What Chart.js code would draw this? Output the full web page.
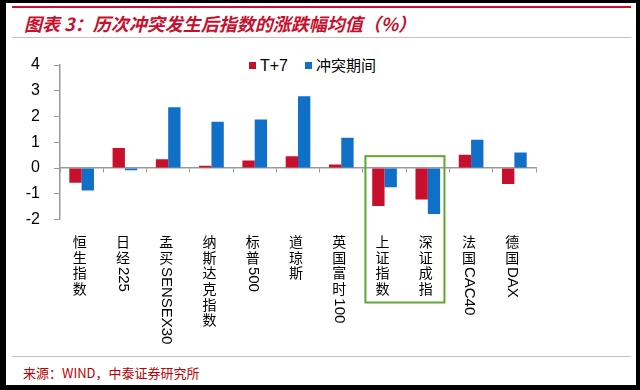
<!DOCTYPE html>
<html><head><meta charset="utf-8">
<script src="https://cdn.jsdelivr.net/npm/chart.js@4.4.1/dist/chart.umd.min.js"></script>
<style>
html,body{margin:0;padding:0;background:#000;width:640px;height:390px;overflow:hidden}
#frame{position:absolute;left:6px;top:3px;width:630px;height:382px;background:#fff}
#redline{position:absolute;left:12px;top:6px;width:619px;height:2px;background:#C8102E}
#title{position:absolute;left:24px;top:12px;font:italic bold 18px "Noto Sans CJK SC";color:#C8102E;white-space:nowrap;line-height:22px}
#thin{position:absolute;left:12px;top:37px;width:619px;height:1px;background:#dcb8b8}
#bottomline{position:absolute;left:12px;top:356px;width:619px;height:1px;background:#cbc1c4}
#source{position:absolute;left:23px;top:364px;font:13px "Noto Sans CJK SC";color:#C00000;line-height:18px;white-space:nowrap}
#legend{position:absolute;left:249px;top:55px;height:20px;white-space:nowrap;font:15px "Noto Sans CJK SC";color:#000;line-height:20px}
#legend .sw{display:inline-block;width:7px;height:7px;vertical-align:middle;margin-right:4px;position:relative;top:-1px}
#legend .lt{font:16px "Liberation Sans",Arial;margin-right:17px}
#c{position:absolute;left:0;top:0}
</style></head>
<body>
<div id="frame"></div>
<div id="redline"></div>
<div id="title">图表 3：历次冲突发生后指数的涨跌幅均值（%）</div>
<div id="thin"></div>
<div id="legend"><span class="sw" style="background:#C8102E"></span><span class="lt">T+7</span><span class="sw" style="background:#1070C8"></span><span>冲突期间</span></div>
<div id="bottomline"></div>
<div id="source">来源：WIND，中泰证券研究所</div>
<canvas id="c" width="640" height="390"></canvas>
<script>
const categories = ["恒生指数","日经225","孟买SENSEX30","纳斯达克指数","标普500","道琼斯","英国富时100","上证指数","深证成指","法国CAC40","德国DAX"];
const seriesNames = ["T+7","冲突期间"];
const t7Values = [-0.57, 0.78, 0.34, 0.09, 0.29, 0.46, 0.14, -1.48, -1.22, 0.51, -0.62];
const conflictValues = [-0.87, -0.09, 2.36, 1.80, 1.88, 2.79, 1.17, -0.75, -1.79, 1.10, 0.60];
const yTicks = [-2, -1, 0, 1, 2, 3, 4];
const highlighted = [7, 8];

const labelPlugin = {
  id: 'vertLabels',
  afterDraw(chart) {
    const ctx = chart.ctx, xs = chart.scales.x, ys = chart.scales.y, area = chart.chartArea;
    ctx.save();
    ctx.fillStyle = '#000';
    const pitch = 15.7;
    categories.forEach((lab, i) => {
      const x = xs.getPixelForValue(i) - 2;
      let y = area.bottom + 15;
      const runs = lab.match(/[A-Za-z0-9+]+|./g);
      runs.forEach(r => {
        if (/^[A-Za-z0-9+]+$/.test(r)) {
          ctx.font = '15px "Liberation Sans", Arial';
          ctx.save();
          ctx.translate(x, y + 1);
          ctx.rotate(Math.PI / 2);
          ctx.textAlign = 'left';
          ctx.textBaseline = 'middle';
          ctx.fillText(r, 0, 0);
          ctx.restore();
          y += ctx.measureText(r).width + 2;
        } else {
          ctx.font = '14px "Noto Sans CJK SC"';
          ctx.textAlign = 'center';
          ctx.textBaseline = 'top';
          ctx.fillText(r, x, y);
          y += pitch;
        }
      });
    });
    // highlight box
    const cw = xs.getPixelForValue(1) - xs.getPixelForValue(0);
    const left = xs.getPixelForValue(highlighted[0]) - cw / 2 + 2.5;
    const right = xs.getPixelForValue(highlighted[1]) + cw / 2 - 5;
    const top = ys.getPixelForValue(0.46);
    const bottom = area.bottom + 83;
    ctx.strokeStyle = '#5CA832';
    ctx.lineWidth = 2;
    ctx.strokeRect(left, top, right - left, bottom - top);
    ctx.restore();
  }
};

new Chart(document.getElementById('c'), {
  type: 'bar',
  data: {
    labels: categories,
    datasets: [
      { label: seriesNames[0], data: t7Values, backgroundColor: '#C8102E' },
      { label: seriesNames[1], data: conflictValues, backgroundColor: '#1070C8' }
    ]
  },
  options: {
    responsive: false,
    animation: false,
    layout: { padding: { top: 65, right: 104, bottom: 170.5, left: 0 } },
    datasets: { bar: { categoryPercentage: 0.57, barPercentage: 1.0 } },
    plugins: { legend: { display: false }, tooltip: { enabled: false } },
    scales: {
      x: {
        position: { y: 0 },
        offset: true,
        ticks: { display: false },
        grid: { offset: true, drawOnChartArea: false, drawTicks: true, tickLength: 4, color: '#999' },
        border: { color: '#999', width: 1.5 }
      },
      y: {
        min: -2, max: 4,
        afterBuildTicks: s => { s.ticks = yTicks.map(v => ({ value: v })); },
        afterFit: s => { s.width = 60; },
        ticks: { font: { family: '"Liberation Sans", Arial', size: 16 }, color: '#000', padding: 14 },
        grid: { drawOnChartArea: false, tickLength: 6, color: '#999' },
        border: { color: '#999', width: 1.5 }
      }
    }
  },
  plugins: [labelPlugin]
});
</script>
</body></html>
